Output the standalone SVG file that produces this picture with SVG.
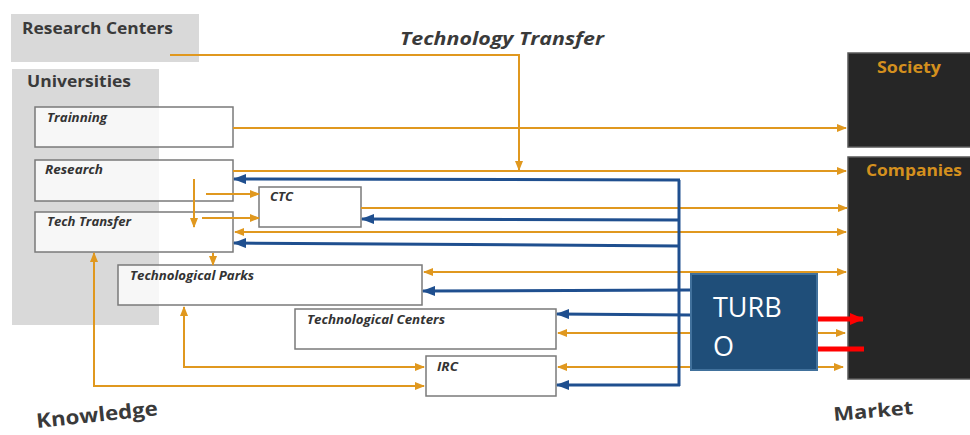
<svg xmlns="http://www.w3.org/2000/svg" width="970" height="435" viewBox="0 0 970 435">
<style>
.gray{fill:#d9d9d9}
.box{fill:#fff;fill-opacity:0.78;stroke:#7a7a7a;stroke-width:1.5}
.dark{fill:#262626;stroke:#595959;stroke-width:1.5}
.lbl{font-family:"Open Sans","DejaVu Sans",sans-serif;font-weight:bold;font-style:italic;font-size:12.5px;fill:#333}
.head{font-family:"Open Sans","DejaVu Sans",sans-serif;font-weight:bold;fill:#3a3a3a}
.org{font-family:"Open Sans","DejaVu Sans",sans-serif;font-weight:bold;font-size:16px;fill:#d4901e}
.o{fill:none;stroke:#e0981f;stroke-width:2}
.b{fill:none;stroke:#1f4f8f;stroke-width:3}
.r{fill:none;stroke:#ff0000;stroke-width:5}
</style>
<defs>
<marker id="ao" markerUnits="userSpaceOnUse" markerWidth="10" markerHeight="8" refX="9" refY="4" orient="auto-start-reverse"><path d="M0,0 L10,4 L0,8 Z" fill="#e0981f"/></marker>
<marker id="ab" markerUnits="userSpaceOnUse" markerWidth="13" markerHeight="10" refX="12" refY="5" orient="auto-start-reverse"><path d="M0,0 L13,5 L0,10 Z" fill="#1f4f8f"/></marker>
<marker id="ar" markerUnits="userSpaceOnUse" markerWidth="14" markerHeight="12" refX="13" refY="6" orient="auto"><path d="M0,0 L14,6 L0,12 Z" fill="#ff0000"/></marker>
</defs>
<rect width="970" height="435" fill="#fff"/>

<g id="research-centers">
<rect class="gray" x="11" y="14" width="188" height="48"/>
<text class="head" x="22" y="34" font-size="16" textLength="151" lengthAdjust="spacingAndGlyphs">Research Centers</text>
</g>
<g id="universities">
<rect class="gray" x="12" y="69" width="147" height="256"/>
<text class="head" x="27" y="87" font-size="16.5" textLength="104" lengthAdjust="spacingAndGlyphs">Universities</text>
</g>

<text class="head" x="400" y="45" font-size="18" font-style="italic" fill="#222" textLength="204" lengthAdjust="spacingAndGlyphs">Technology Transfer</text>
<text class="head" x="37" y="428" font-size="20" fill="#222" textLength="122" lengthAdjust="spacingAndGlyphs" transform="rotate(-6 37 428)">Knowledge</text>
<text class="head" x="834" y="421" font-size="19" fill="#222" textLength="80" lengthAdjust="spacingAndGlyphs" transform="rotate(-5 834 421)">Market</text>

<g id="trainning">
<rect class="box" x="35" y="107" width="198" height="40"/>
<text class="lbl" x="47" y="122" textLength="60" lengthAdjust="spacingAndGlyphs">Trainning</text>
</g>
<g id="research">
<rect class="box" x="35" y="160" width="198" height="41"/>
<text class="lbl" x="45" y="174" textLength="58" lengthAdjust="spacingAndGlyphs">Research</text>
</g>
<g id="tech-transfer">
<rect class="box" x="35" y="212" width="198" height="40"/>
<text class="lbl" x="47" y="226" textLength="84" lengthAdjust="spacingAndGlyphs">Tech Transfer</text>
</g>
<g id="ctc">
<rect class="box" x="259" y="187" width="102" height="40"/>
<text class="lbl" x="270" y="201" textLength="23" lengthAdjust="spacingAndGlyphs">CTC</text>
</g>
<g id="technological-parks">
<rect class="box" x="118" y="265" width="304" height="40"/>
<text class="lbl" x="130" y="280" textLength="124" lengthAdjust="spacingAndGlyphs">Technological Parks</text>
</g>
<g id="technological-centers">
<rect class="box" x="295" y="309" width="261" height="40"/>
<text class="lbl" x="307" y="324" textLength="138" lengthAdjust="spacingAndGlyphs">Technological Centers</text>
</g>
<g id="irc">
<rect class="box" x="426" y="356" width="130" height="40"/>
<text class="lbl" x="437" y="371" textLength="21" lengthAdjust="spacingAndGlyphs">IRC</text>
</g>
<g id="society">
<rect class="dark" x="848" y="53" width="130" height="94"/>
<text class="org" x="877" y="73" textLength="64" lengthAdjust="spacingAndGlyphs">Society</text>
</g>
<g id="companies">
<rect class="dark" x="848" y="157" width="130" height="222"/>
<text class="org" x="866" y="176" textLength="96" lengthAdjust="spacingAndGlyphs">Companies</text>
</g>
<g id="turbo">
<rect x="691" y="274" width="126" height="96" fill="#1f4e79" stroke="#41719c" stroke-width="2"/>
<text x="713" y="317" font-family="'Open Sans',sans-serif" font-size="27" fill="#fff">TURB</text>
<text x="713" y="356" font-family="'Open Sans',sans-serif" font-size="27" fill="#fff">O</text>
</g>

<g id="connectors">
<!-- orange -->
<polyline class="o" points="170,55 519,55 519,170" marker-end="url(#ao)"/>
<line class="o" x1="233" y1="128" x2="846" y2="128" marker-end="url(#ao)"/>
<line class="o" x1="233" y1="171" x2="846" y2="171" marker-end="url(#ao)"/>
<line class="o" x1="206" y1="194" x2="259" y2="194" marker-end="url(#ao)"/>
<line class="o" x1="194" y1="179" x2="194" y2="227" marker-end="url(#ao)"/>
<line class="o" x1="202" y1="218" x2="259" y2="218" marker-end="url(#ao)"/>
<line class="o" x1="361" y1="208" x2="847" y2="208" marker-end="url(#ao)"/>
<line class="o" x1="235" y1="232" x2="846" y2="232" marker-start="url(#ao)" marker-end="url(#ao)"/>
<line class="o" x1="213" y1="253" x2="213" y2="265" marker-end="url(#ao)"/>
<line class="o" x1="424" y1="272" x2="846" y2="272" marker-start="url(#ao)" marker-end="url(#ao)"/>
<line class="o" x1="558" y1="333" x2="690" y2="333" marker-start="url(#ao)"/>
<line class="o" x1="818" y1="333" x2="845" y2="333" marker-end="url(#ao)"/>
<line class="o" x1="558" y1="367" x2="690" y2="367" marker-start="url(#ao)"/>
<line class="o" x1="818" y1="367" x2="843" y2="367" marker-end="url(#ao)"/>
<polyline class="o" points="184,307 184,367 424,367" marker-start="url(#ao)" marker-end="url(#ao)"/>
<polyline class="o" points="94,253 94,386 424,386" marker-start="url(#ao)" marker-end="url(#ao)"/>
<!-- blue -->
<line class="b" x1="679" y1="180" x2="679" y2="386"/>
<line class="b" x1="680" y1="180" x2="234" y2="179" marker-end="url(#ab)"/>
<line class="b" x1="680" y1="220" x2="362" y2="219" marker-end="url(#ab)"/>
<line class="b" x1="680" y1="246" x2="234" y2="243" marker-end="url(#ab)"/>
<line class="b" x1="690" y1="290" x2="423" y2="291" marker-end="url(#ab)"/>
<line class="b" x1="690" y1="315" x2="557" y2="314" marker-end="url(#ab)"/>
<line class="b" x1="680" y1="385" x2="557" y2="385" marker-end="url(#ab)"/>
<!-- red -->
<line class="r" x1="818" y1="319" x2="863" y2="319" marker-end="url(#ar)"/>
<line class="r" x1="818" y1="349" x2="864" y2="349"/>
</g>
</svg>
